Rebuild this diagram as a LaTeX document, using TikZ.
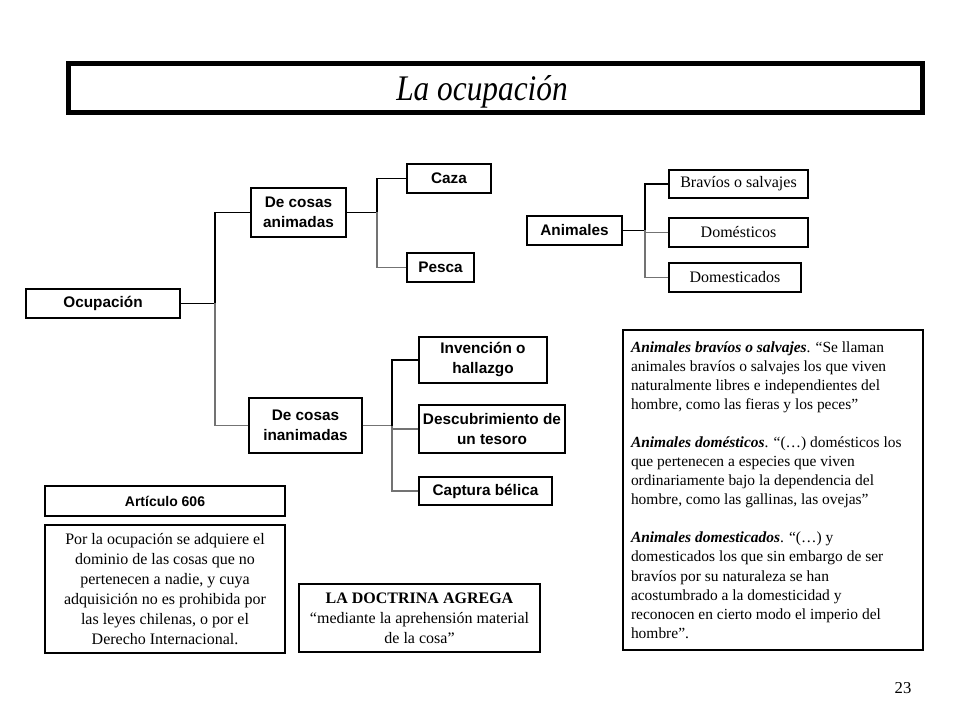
\documentclass[tikz,border=0pt]{standalone}
\usepackage{fontspec}
\setmainfont{Liberation Serif}
\setsansfont{Liberation Sans}
\newfontfamily\titulofont[FakeStretch=0.87]{Liberation Serif}
\usepackage{tikz}

\begin{document}
\begin{tikzpicture}[x=0.75pt,y=0.75pt,yscale=-1,
  caja/.style={draw, line width=0.9pt, inner sep=0pt, align=center, font=\sffamily\bfseries\fontsize{11.5}{15}\selectfont},
  cajaserif/.style={draw, line width=0.9pt, inner sep=0pt, align=center, font=\fontsize{12}{15}\selectfont},
  rama/.style={line width=0.9pt},
  ramagris/.style={line width=0.9pt, draw=black!55}]
\useasboundingbox (0,0) rectangle (960,720);

%Shape: Title frame
\node (marco) [draw, line width=3.75pt, minimum width=640.5pt, minimum height=37pt] at (495.5,88) {};
% Text Node
\node (titulo) [anchor=base, inner sep=0pt] at (482,101) {\titulofont\itshape\fontsize{27}{30}\selectfont La ocupación};

%Shape: left tree
\node (ocup) [caja, minimum width=115.5pt, minimum height=21.75pt] at (103,303.5) {Ocupación};
\node (animadas) [caja, minimum width=71.25pt, minimum height=36.75pt] at (298.5,212.5) {De cosas\\animadas};
\node (caza) [caja, minimum width=63pt, minimum height=21.75pt] at (449,178.5) {Caza};
\node (pesca) [caja, minimum width=50.25pt, minimum height=21.75pt] at (440.5,267.5) {Pesca};
\node (inanimadas) [caja, minimum width=84.75pt, minimum height=41.25pt] at (305.5,425.5) {De cosas\\inanimadas};
\node (invencion) [caja, minimum width=96pt, minimum height=34.5pt] at (483,360) {Invención o\\hallazgo};
\node (tesoro) [caja, minimum width=109.5pt, minimum height=36pt] at (492,429) {Descubrimiento de\\un tesoro};
\node (captura) [caja, minimum width=99.75pt, minimum height=21pt] at (485.5,491) {Captura bélica};

%Shape: animals tree
\node (animales) [caja, minimum width=71.25pt, minimum height=21.75pt] at (574.5,230.5) {Animales};
\node (bravios) [cajaserif, minimum width=104.25pt, minimum height=21pt] at (738.5,184) {Bravíos o salvajes};
\node (domesticos) [cajaserif, minimum width=104.25pt, minimum height=21.75pt] at (738.5,232.5) {Domésticos};
\node (domesticados) [cajaserif, minimum width=99pt, minimum height=21.75pt] at (735,277.5) {Domesticados};

%Straight Lines
\coordinate (j1) at (215,303.5);
\coordinate (j2) at (377,212.5);
\coordinate (j3) at (392,425.5);
\coordinate (j4) at (645,230.5);
\draw [rama] (ocup) -- (j1);
\draw [rama] (animadas.west) -| (j1);
\draw [ramagris] (inanimadas.west) -| (j1);
\draw [rama] (animadas) -- (j2);
\draw [rama] (caza.west) -| (j2);
\draw [ramagris] (pesca.west) -| (j2);
\draw [ramagris] (inanimadas) -- (j3);
\draw [rama] (invencion.west) -| (j3);
\draw [ramagris] (tesoro.west) -| (j3);
\draw [ramagris] (captura.west) -| (j3);
\draw [rama] (animales) -- (j4);
\draw [rama] (bravios.west) -| (j4);
\draw [ramagris] (domesticos.west) -| (j4);
\draw [ramagris] (domesticados.west) -| (j4);

% Text Node
\node (articulo) [caja, font=\sffamily\bfseries\fontsize{10.5}{13}\selectfont, minimum width=180pt, minimum height=22.5pt] at (165,501) {Artículo 606};
% Text Node
\node (definicion) [cajaserif, minimum width=180pt, minimum height=96pt] at (165,589) {Por la ocupación se adquiere el\\dominio de las cosas que no\\pertenecen a nadie, y cuya\\adquisición no es prohibida por\\las leyes chilenas, o por el\\Derecho Internacional.};
% Text Node
\node (doctrina) [cajaserif, minimum width=180.75pt, minimum height=51pt] at (419.5,618) {\textbf{LA DOCTRINA AGREGA}\\“mediante la aprehensión material\\de la cosa”};
% Text Node
\node (nota) [draw, line width=0.9pt, text width=213pt, inner xsep=6pt, inner ysep=0pt, minimum height=240pt, align=flush left, font=\fontsize{11.6}{14.3}\selectfont] at (773,490) {\textbf{\textit{Animales bravíos o salvajes}}. “Se llaman\\
animales bravíos o salvajes los que viven\\
naturalmente libres e independientes del\\
hombre, como las fieras y los peces”\\[14.3pt]
\textbf{\textit{Animales domésticos}}. “(…) domésticos los\\
que pertenecen a especies que viven\\
ordinariamente bajo la dependencia del\\
hombre, como las gallinas, las ovejas”\\[14.3pt]
\textbf{\textit{Animales domesticados}}. “(…) y\\
domesticados los que sin embargo de ser\\
bravíos por su naturaleza se han\\
acostumbrado a la domesticidad y\\
reconocen en cierto modo el imperio del\\
hombre”.};
% Text Node
\node (pagina) [font=\fontsize{12.5}{14}\selectfont] at (903,688) {23};

\end{tikzpicture}
\end{document}
